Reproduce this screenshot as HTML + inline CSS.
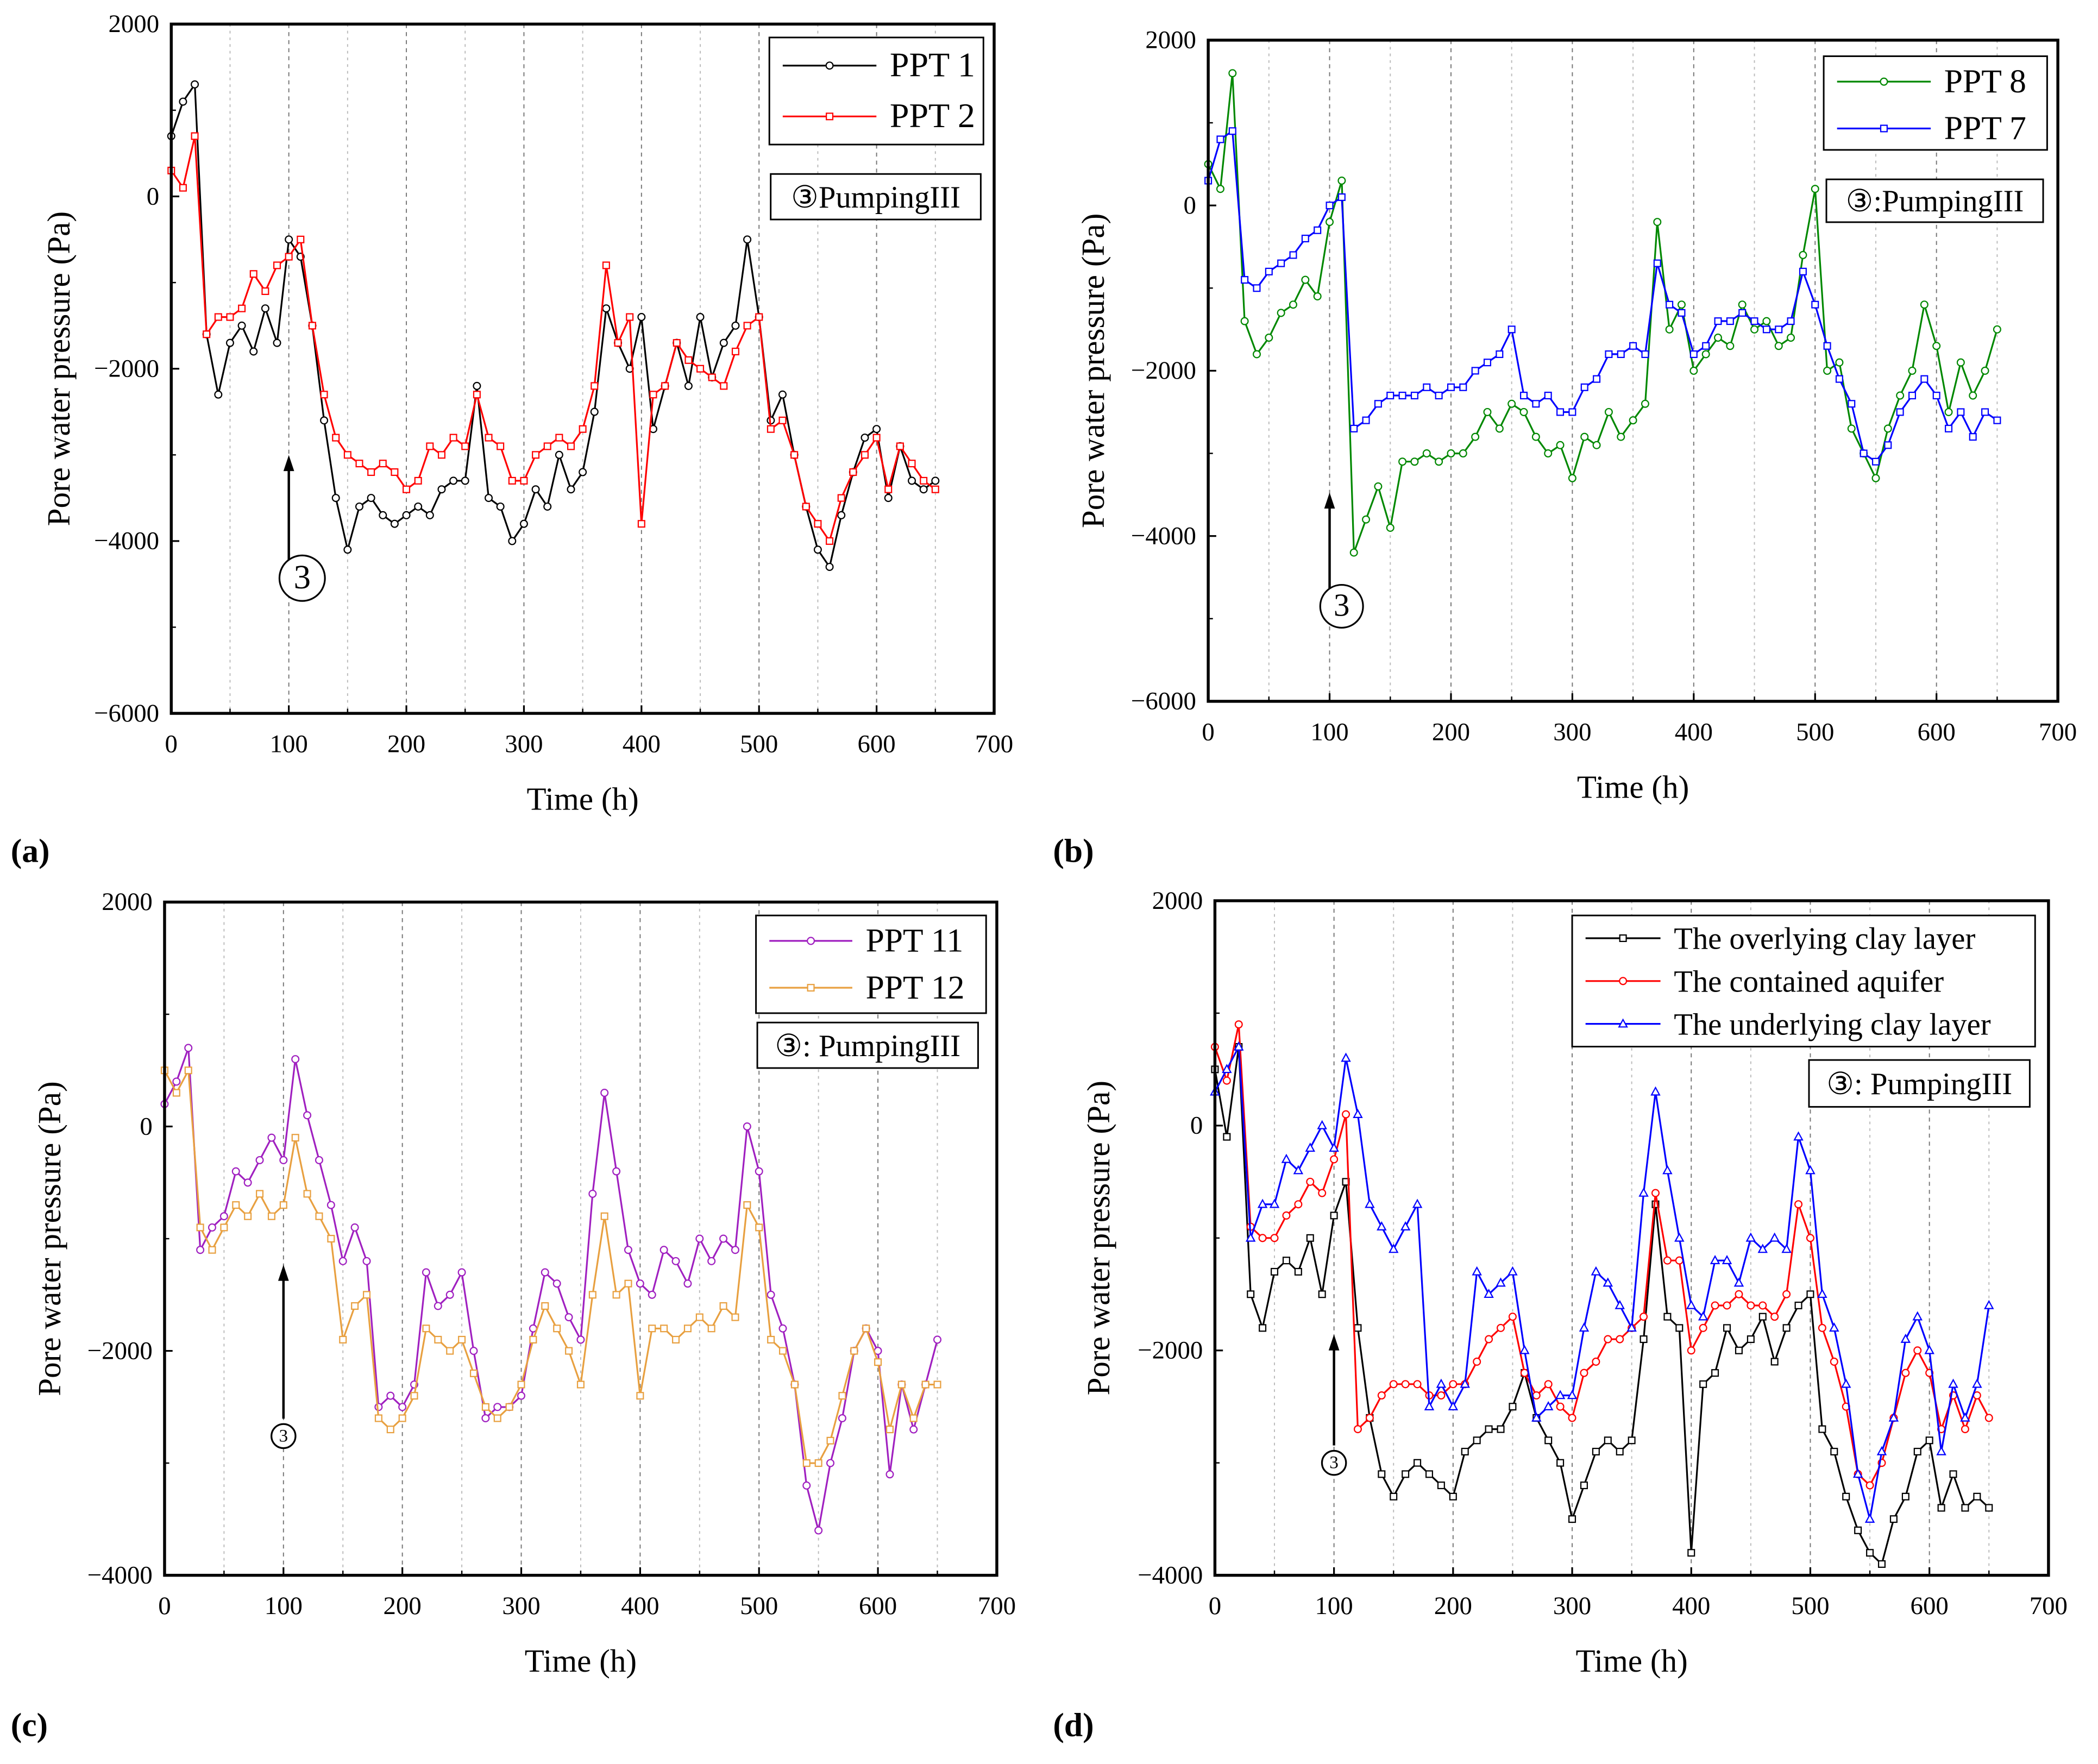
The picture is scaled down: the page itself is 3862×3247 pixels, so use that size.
<!DOCTYPE html>
<html><head><meta charset="utf-8"><style>
html,body{margin:0;padding:0;background:#fff;}
svg{display:block;font-family:"Liberation Serif",serif;}
</style></head><body>
<svg id="fig" width="3862" height="3247" viewBox="0 0 1568 1318" preserveAspectRatio="none" xmlns="http://www.w3.org/2000/svg"></svg>
<script>
const times = [0,10,20,30,40,50,60,70,80,90,100,110,120,130,140,150,160,170,180,190,200,210,220,230,240,250,260,270,280,290,300,310,320,330,340,350,360,370,380,390,400,410,420,430,440,450,460,470,480,490,500,510,520,530,540,550,560,570,580,590,600,610,620,630,640,650];
const ppt1 = [700,1100,1300,-1600,-2300,-1700,-1500,-1800,-1300,-1700,-500,-700,-1500,-2600,-3500,-4100,-3600,-3500,-3700,-3800,-3700,-3600,-3700,-3400,-3300,-3300,-2200,-3500,-3600,-4000,-3800,-3400,-3600,-3000,-3400,-3200,-2500,-1300,-1700,-2000,-1400,-2700,-2200,-1700,-2200,-1400,-2100,-1700,-1500,-500,-1400,-2600,-2300,-3000,-3600,-4100,-4300,-3700,-3200,-2800,-2700,-3500,-2900,-3300,-3400,-3300];
const ppt2 = [300,100,700,-1600,-1400,-1400,-1300,-900,-1100,-800,-700,-500,-1500,-2300,-2800,-3000,-3100,-3200,-3100,-3200,-3400,-3300,-2900,-3000,-2800,-2900,-2300,-2800,-2900,-3300,-3300,-3000,-2900,-2800,-2900,-2700,-2200,-800,-1700,-1400,-3800,-2300,-2200,-1700,-1900,-2000,-2100,-2200,-1800,-1500,-1400,-2700,-2600,-3000,-3600,-3800,-4000,-3500,-3200,-3000,-2800,-3400,-2900,-3100,-3300,-3400];
const ppt8 = [500,200,1600,-1400,-1800,-1600,-1300,-1200,-900,-1100,-200,300,-4200,-3800,-3400,-3900,-3100,-3100,-3000,-3100,-3000,-3000,-2800,-2500,-2700,-2400,-2500,-2800,-3000,-2900,-3300,-2800,-2900,-2500,-2800,-2600,-2400,-200,-1500,-1200,-2000,-1800,-1600,-1700,-1200,-1500,-1400,-1700,-1600,-600,200,-2000,-1900,-2700,-3000,-3300,-2700,-2300,-2000,-1200,-1700,-2500,-1900,-2300,-2000,-1500];
const ppt7 = [300,800,900,-900,-1000,-800,-700,-600,-400,-300,0,100,-2700,-2600,-2400,-2300,-2300,-2300,-2200,-2300,-2200,-2200,-2000,-1900,-1800,-1500,-2300,-2400,-2300,-2500,-2500,-2200,-2100,-1800,-1800,-1700,-1800,-700,-1200,-1300,-1800,-1700,-1400,-1400,-1300,-1400,-1500,-1500,-1400,-800,-1200,-1700,-2100,-2400,-3000,-3100,-2900,-2500,-2300,-2100,-2300,-2700,-2500,-2800,-2500,-2600];
const ppt11 = [200,400,700,-1100,-900,-800,-400,-500,-300,-100,-300,600,100,-300,-700,-1200,-900,-1200,-2500,-2400,-2500,-2300,-1300,-1600,-1500,-1300,-2000,-2600,-2500,-2500,-2400,-1800,-1300,-1400,-1700,-1900,-600,300,-400,-1100,-1400,-1500,-1100,-1200,-1400,-1000,-1200,-1000,-1100,0,-400,-1500,-1800,-2300,-3200,-3600,-3000,-2600,-2000,-1800,-2000,-3100,-2300,-2700,-2300,-1900];
const ppt12 = [500,300,500,-900,-1100,-900,-700,-800,-600,-800,-700,-100,-600,-800,-1000,-1900,-1600,-1500,-2600,-2700,-2600,-2400,-1800,-1900,-2000,-1900,-2200,-2500,-2600,-2500,-2300,-1900,-1600,-1800,-2000,-2300,-1500,-800,-1500,-1400,-2400,-1800,-1800,-1900,-1800,-1700,-1800,-1600,-1700,-700,-900,-1900,-2000,-2300,-3000,-3000,-2800,-2400,-2000,-1800,-2100,-2700,-2300,-2600,-2300,-2300];
const overClay = [500,-100,700,-1500,-1800,-1300,-1200,-1300,-1000,-1500,-800,-500,-1800,-2600,-3100,-3300,-3100,-3000,-3100,-3200,-3300,-2900,-2800,-2700,-2700,-2500,-2200,-2600,-2800,-3000,-3500,-3200,-2900,-2800,-2900,-2800,-1900,-700,-1700,-1800,-3800,-2300,-2200,-1800,-2000,-1900,-1700,-2100,-1800,-1600,-1500,-2700,-2900,-3300,-3600,-3800,-3900,-3500,-3300,-2900,-2800,-3400,-3100,-3400,-3300,-3400];
const aquifer = [700,400,900,-900,-1000,-1000,-800,-700,-500,-600,-300,100,-2700,-2600,-2400,-2300,-2300,-2300,-2400,-2400,-2300,-2300,-2100,-1900,-1800,-1700,-2200,-2400,-2300,-2500,-2600,-2200,-2100,-1900,-1900,-1800,-1700,-600,-1200,-1200,-2000,-1800,-1600,-1600,-1500,-1600,-1600,-1700,-1500,-700,-1000,-1800,-2100,-2500,-3100,-3200,-3000,-2600,-2200,-2000,-2200,-2700,-2400,-2700,-2400,-2600];
const underClay = [300,500,700,-1000,-700,-700,-300,-400,-200,0,-200,600,100,-700,-900,-1100,-900,-700,-2500,-2300,-2500,-2300,-1300,-1500,-1400,-1300,-2000,-2600,-2500,-2400,-2400,-1800,-1300,-1400,-1600,-1800,-600,300,-400,-1000,-1600,-1700,-1200,-1200,-1400,-1000,-1100,-1000,-1100,-100,-400,-1500,-1800,-2300,-3100,-3500,-2900,-2600,-1900,-1700,-2000,-2900,-2300,-2600,-2300,-1600];
const xTicks = [0,100,200,300,400,500,600,700];

const NS="http://www.w3.org/2000/svg";
const svg=document.getElementById('fig');
function mk(tag,attrs,parent){const e=document.createElementNS(NS,tag);for(const k in attrs)e.setAttribute(k,attrs[k]);(parent||svg).appendChild(e);return e;}
function txt(x,y,s,size,anchor,parent){const t=mk('text',{x:x,y:y,'font-size':size,'text-anchor':anchor||'middle',fill:'#000'},parent);t.textContent=s;return t;}

function marker(g,type,x,y,color){
  let m;
  if(type==='circle') m=mk('circle',{cx:x,cy:y,r:2.6,fill:'#fff',stroke:color,'stroke-width':0.9},g);
  else if(type==='square') m=mk('rect',{x:x-2.4,y:y-2.4,width:4.8,height:4.8,fill:'#fff',stroke:color,'stroke-width':0.9},g);
  else m=mk('polygon',{points:`${x},${y-3.2} ${x-3},${y+2.3} ${x+3},${y+2.3}`,fill:'#fff',stroke:color,'stroke-width':0.9},g);
  return m;
}

function panel(p){
  const g=mk('g',{});
  
  
  const X=t=>p.x0+(t/700)*(p.x1-p.x0);
  const Y=v=>p.y0+(p.ymax-v)/(p.ymax-p.ymin)*(p.y1-p.y0);
  // grid
  for(let t=50;t<700;t+=50){
    const l=mk('line',{x1:X(t),x2:X(t),y1:p.y0,y2:p.y1,stroke:t%100===0?'#777':'#bbb','stroke-width':0.8,'stroke-dasharray':t%100===0?'3,3':'2,3'},g);
    
    
  }
  // series
  p.series.forEach(s=>{
    const sg=mk('g',{},g);
    
    
    const pts=times.map((t,i)=>X(t).toFixed(1)+','+Y(s.data[i]).toFixed(1)).join(' ');
    mk('polyline',{points:pts,fill:'none',stroke:s.color,'stroke-width':1.3},sg);
    times.forEach((t,i)=>{
      const m=marker(sg,s.marker,X(t),Y(s.data[i]),s.color);
      
      
    });
  });
  // frame
  const fr=mk('rect',{x:p.x0,y:p.y0,width:p.x1-p.x0,height:p.y1-p.y0,fill:'none',stroke:'#000','stroke-width':2.2},g);
  
  
  // x ticks
  xTicks.forEach(t=>{
    mk('line',{x1:X(t),x2:X(t),y1:p.y1,y2:p.y1-6,stroke:'#000','stroke-width':1.3},g);
    const l=txt(X(t),p.y1+29,String(t),19,'middle',g);
    
    
  });
  for(let t=50;t<700;t+=100) mk('line',{x1:X(t),x2:X(t),y1:p.y1,y2:p.y1-3.5,stroke:'#000','stroke-width':1},g);
  // y ticks
  p.yTicks.forEach(v=>{
    mk('line',{x1:p.x0,x2:p.x0+6,y1:Y(v),y2:Y(v),stroke:'#000','stroke-width':1.3},g);
    const l=txt(p.x0-9,Y(v)+6,v<0?'\u2212'+(-v):String(v),19,'end',g);
    
    
  });
  for(let v=p.ymin+1000;v<p.ymax;v+=2000) mk('line',{x1:p.x0,x2:p.x0+3.5,y1:Y(v),y2:Y(v),stroke:'#000','stroke-width':1},g);
  const xt=txt((p.x0+p.x1)/2,p.y1+72,'Time (h)',24,'middle',g);
  
  
  const yt=txt(0,0,'Pore water pressure (Pa)',24,'middle',g);
  yt.setAttribute('transform',`translate(${p.ytx},${(p.y0+p.y1)/2}) rotate(-90)`);
  
  
  const pl=txt(p.lx,p.ly,p.letter,25,'start',g);
  pl.setAttribute('font-weight','bold');
  
  
  // legend
  const L=p.leg;
  const lg=mk('g',{},g);
  
  
  mk('rect',{x:L.x,y:L.y,width:L.w,height:L.h,fill:'#fff',stroke:'#000','stroke-width':1.2},lg);
  p.series.forEach((s,i)=>{
    const yy=L.y+L.first+i*L.step;
    const e=mk('g',{},lg);
    
    
    mk('line',{x1:L.x+10,x2:L.x+10+L.len,y1:yy,y2:yy,stroke:s.color,'stroke-width':1.3},e);
    marker(e,s.marker,L.x+10+L.len/2,yy,s.color);
    txt(L.x+20+L.len,yy+8,s.label,L.fs,'start',e);
  });
  // annotation
  const A=p.ann;
  const ag=mk('g',{},g);
  
  
  mk('rect',{x:A.x,y:A.y,width:A.w,height:A.h,fill:'#fff',stroke:'#000','stroke-width':1.2},ag);
  txt(A.x+A.w/2,A.y+A.h/2+8,A.text,A.fs,'middle',ag);
  // arrow
  const ar=mk('g',{},g);
  
  
  const ax=X(p.arrow.t);
  mk('line',{x1:ax,x2:ax,y1:p.arrow.yb,y2:p.arrow.yt+8,stroke:'#000','stroke-width':1.8},ar);
  mk('polygon',{points:`${ax},${p.arrow.yt} ${ax-4},${p.arrow.yt+12} ${ax+4},${p.arrow.yt+12}`,fill:'#000'},ar);
  mk('circle',{cx:ax+p.arrow.dx,cy:p.arrow.cy,r:p.arrow.r,fill:'#fff',stroke:'#000','stroke-width':1.3},ar);
  txt(ax+p.arrow.dx,p.arrow.cy+p.arrow.r*0.45,'3',p.arrow.r*1.5,'middle',ar);
}

panel({name:'panel-a',x0:128,x1:743,y0:18,y1:533,ymin:-6000,ymax:2000,yTicks:[2000,0,-2000,-4000,-6000],ytx:52,lx:8,ly:644,letter:'(a)',
  series:[{label:'PPT 1',data:ppt1,color:'#000',marker:'circle'},{label:'PPT 2',data:ppt2,color:'#f00',marker:'square'}],
  leg:{x:575,y:28,w:160,h:80,first:21,step:38,len:70,fs:26},
  ann:{x:576,y:130,w:157,h:34,text:'\u2462PumpingIII',fs:23},
  arrow:{t:100,yb:420,yt:340,cy:432,r:17,dx:10}});
panel({name:'panel-b',x0:903,x1:1538,y0:30,y1:524,ymin:-6000,ymax:2000,yTicks:[2000,0,-2000,-4000,-6000],ytx:825,lx:787,ly:644,letter:'(b)',
  series:[{label:'PPT 8',data:ppt8,color:'#080',marker:'circle'},{label:'PPT 7',data:ppt7,color:'#00f',marker:'square'}],
  leg:{x:1363,y:42,w:167,h:70,first:19,step:35,len:70,fs:25},
  ann:{x:1365,y:134,w:162,h:32,text:'\u2462:PumpingIII',fs:23},
  arrow:{t:100,yb:440,yt:368,cy:453,r:16,dx:9}});
panel({name:'panel-c',x0:123,x1:745,y0:674,y1:1177,ymin:-4000,ymax:2000,yTicks:[2000,0,-2000,-4000],ytx:45,lx:8,ly:1297,letter:'(c)',
  series:[{label:'PPT 11',data:ppt11,color:'#a020c0',marker:'circle'},{label:'PPT 12',data:ppt12,color:'#e8a040',marker:'square'}],
  leg:{x:565,y:684,w:172,h:73,first:19,step:35,len:62,fs:25},
  ann:{x:566,y:764,w:165,h:34,text:'\u2462: PumpingIII',fs:23},
  arrow:{t:100,yb:1060,yt:945,cy:1073,r:9,dx:0}});
panel({name:'panel-d',x0:908,x1:1531,y0:673,y1:1177,ymin:-4000,ymax:2000,yTicks:[2000,0,-2000,-4000],ytx:829,lx:787,ly:1297,letter:'(d)',
  series:[{label:'The overlying clay layer',data:overClay,color:'#000',marker:'square'},{label:'The contained aquifer',data:aquifer,color:'#f00',marker:'circle'},{label:'The underlying clay layer',data:underClay,color:'#00f',marker:'triangle'}],
  leg:{x:1175,y:684,w:346,h:98,first:17,step:32,len:56,fs:23},
  ann:{x:1352,y:792,w:165,h:35,text:'\u2462: PumpingIII',fs:23},
  arrow:{t:100,yb:1080,yt:997,cy:1093,r:9,dx:0}});
</script>
</body></html>
